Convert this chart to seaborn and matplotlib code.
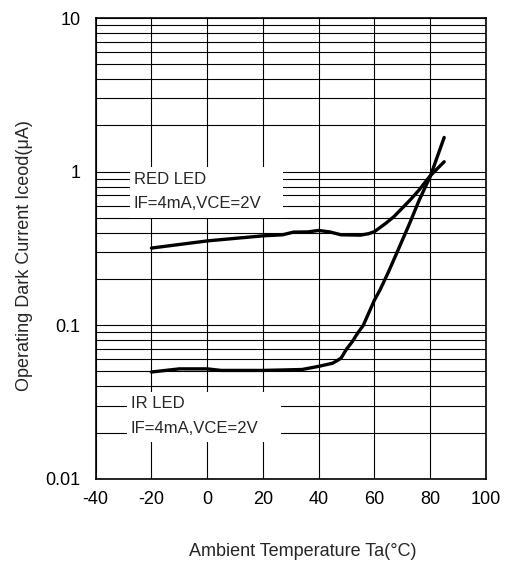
import pandas as pd
import numpy as np
import matplotlib
matplotlib.use("Agg")
import matplotlib.pyplot as plt
import matplotlib.patches as mpatches
from matplotlib.ticker import LogLocator, FixedLocator, NullFormatter
import seaborn as sns

# data
ta_red = [-20, 0, 20, 27, 31, 36, 40, 44, 48, 55, 58, 60, 64, 67, 70, 73, 76, 80, 85]
iceod_red = [0.318, 0.354, 0.382, 0.388, 0.404, 0.405, 0.414, 0.405, 0.388, 0.386, 0.395,
             0.407, 0.46, 0.51, 0.58, 0.66, 0.76, 0.94, 1.16]

ta_ir = [-20, -10, 0, 5, 20, 34, 40, 45, 48, 50, 52, 54, 56, 60, 62, 65, 68.5, 72.6, 76, 80, 85]
iceod_ir = [0.0496, 0.052, 0.052, 0.0508, 0.0508, 0.0515, 0.054, 0.0566, 0.061, 0.07, 0.078,
            0.089, 0.1, 0.146, 0.17, 0.222, 0.31, 0.46, 0.65, 0.93, 1.67]

x_ticks = [-40, -20, 0, 20, 40, 60, 80, 100]
y_ticks = [0.01, 0.1, 1, 10]
y_labels = ["0.01", "0.1", "1", "10"]

df = pd.concat([
    pd.DataFrame({"Ta": ta_red, "Iceod": iceod_red, "led": "RED"}),
    pd.DataFrame({"Ta": ta_ir, "Iceod": iceod_ir, "led": "IR"}),
])

sns.set_style("white")
plt.rcParams["font.family"] = ["Liberation Sans", "DejaVu Sans"]
plt.rcParams["axes.unicode_minus"] = False

fig = plt.figure(figsize=(5.06, 5.64), dpi=100)
ax = fig.add_axes([0.189, 0.151, 0.7715, 0.817])

ax.set_yscale("log")
ax.set_xlim(-40, 100)
ax.set_ylim(0.01, 10)

# grid
ax.xaxis.set_major_locator(FixedLocator(x_ticks))
ax.yaxis.set_major_locator(FixedLocator(y_ticks))
ax.yaxis.set_minor_locator(LogLocator(base=10, subs=np.arange(2, 10)))
ax.yaxis.set_minor_formatter(NullFormatter())
ax.set_yticklabels(y_labels)
ax.grid(True, which="major", axis="x", color="black", lw=0.8)
ax.grid(True, which="both", axis="y", color="black", lw=0.8)
ax.set_axisbelow(True)

# white boxes hiding the grid behind the notes
for x0, y0, w, h in [(0.088, 0.5655, 0.392, 0.112), (0.081, 0.081, 0.394, 0.108)]:
    ax.add_patch(mpatches.Rectangle((x0, y0), w, h, transform=ax.transAxes,
                                    facecolor="white", edgecolor="none", zorder=1.5))

sns.lineplot(data=df, x="Ta", y="Iceod", hue="led", palette=["black", "black"],
             lw=2.4, legend=False, ax=ax, zorder=3)

fs = 12
ax.text(0.098, 0.6486, "RED LED", transform=ax.transAxes, va="center", fontsize=fs, zorder=4)
ax.text(0.098, 0.598, "IF=4mA,VCE=2V", transform=ax.transAxes, va="center", fontsize=fs, zorder=4)
ax.text(0.09, 0.1627, "IR LED", transform=ax.transAxes, va="center", fontsize=fs, zorder=4)
ax.text(0.09, 0.11, "IF=4mA,VCE=2V", transform=ax.transAxes, va="center", fontsize=fs, zorder=4)

for s in ax.spines.values():
    s.set_color("black")
    s.set_linewidth(1.2)

ax.tick_params(axis="both", which="both", length=0, labelsize=13, colors="black")
ax.tick_params(axis="x", pad=9)
ax.tick_params(axis="y", pad=11)

ax.set_xlabel("Ambient Temperature Ta(°C)", fontsize=13)
ax.set_ylabel("Operating Dark Current Iceod(μA)", fontsize=13)
ax.xaxis.set_label_coords(0.531, -0.139)
ax.yaxis.set_label_coords(-0.161, 0.484)

fig.savefig("out.png", dpi=100)
